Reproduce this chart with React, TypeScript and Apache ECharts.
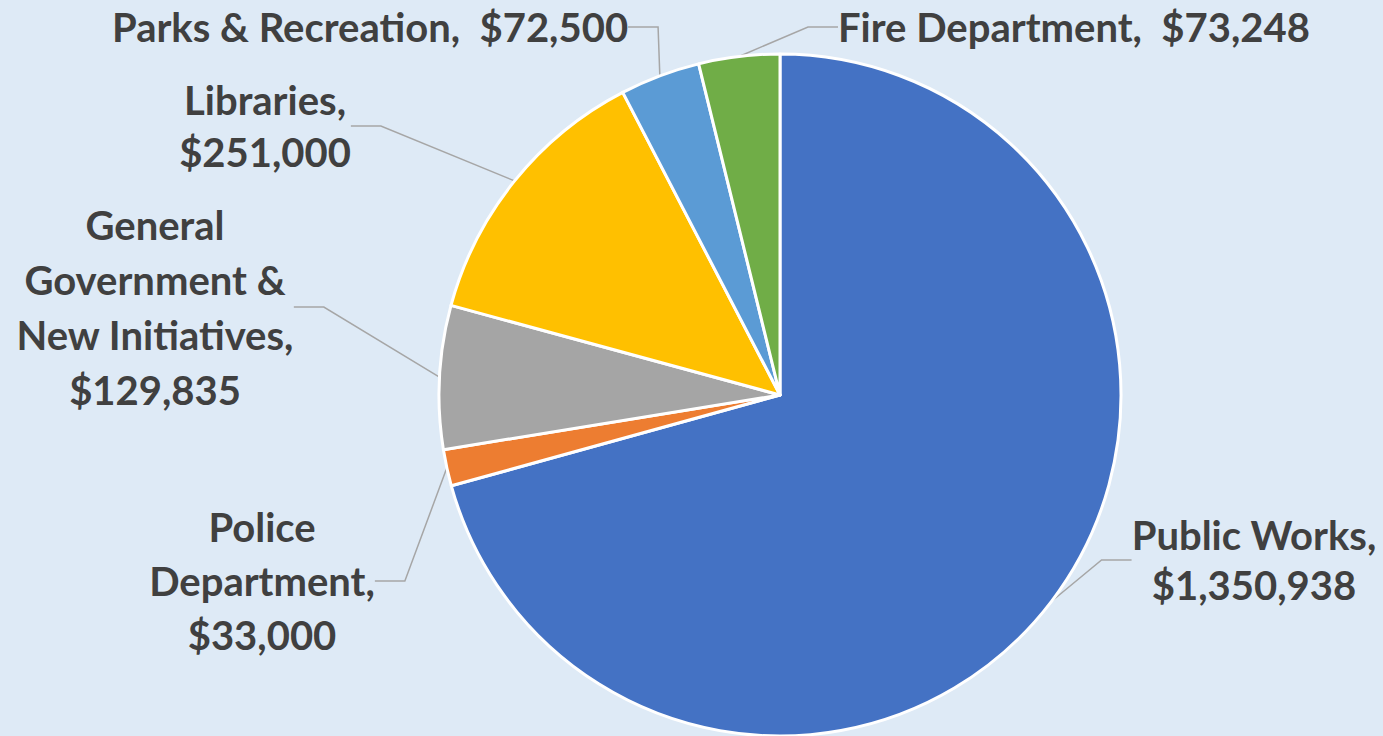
import React, { useEffect, useRef } from "react";
import * as echarts from "echarts";

const categories = [
  "Public Works",
  "Police Department",
  "General Government & New Initiatives",
  "Libraries",
  "Parks & Recreation",
  "Fire Department",
];
const values = [1350938, 33000, 129835, 251000, 72500, 73248];
const labelNames = [
  "Public Works,\n",
  "Police\nDepartment,\n",
  "General\nGovernment &\nNew Initiatives,\n",
  "Libraries,\n",
  "Parks & Recreation,  ",
  "Fire Department,  ",
];
const colors = ["#4472C4", "#ED7D31", "#A5A5A5", "#FFC000", "#5B9BD5", "#70AD47"];

// label anchor placements (layout only)
const labelPos = [
  { x: 1254, y: 560, align: "center", lh: 50 },
  { x: 262, y: 581, align: "center", lh: 54 },
  { x: 155, y: 307, align: "center", lh: 55 },
  { x: 265, y: 126, align: "center", lh: 52 },
  { x: 112, y: 27, align: "left", lh: 54 },
  { x: 838, y: 27, align: "left", lh: 54 },
];

export default function App() {
  const ref = useRef<HTMLDivElement>(null);
  useEffect(() => {
    if (!ref.current) return;
    document.body.style.margin = "0";
    const chart = echarts.init(ref.current, undefined, { renderer: "svg" });
    chart.setOption({
      animation: false,
      backgroundColor: "#DEEAF6",
      series: [
        {
          type: "pie",
          center: [780, 395],
          radius: 341,
          startAngle: 90,
          clockwise: true,
          avoidLabelOverlap: false,
          itemStyle: { borderColor: "#FFFFFF", borderWidth: 3 },
          label: {
            show: true,
            position: "outside",
            color: "#404040",
            fontFamily: "Lato",
            fontWeight: "bold",
            fontSize: 40,
            lineHeight: 54,
            align: "center",
          },
          labelLine: {
            show: true,
            lineStyle: { color: "#A6A6A6", width: 1.5 },
          },
          labelLayout: (params: any) => {
            const p = labelPos[params.dataIndex];
            return {
              x: p.x,
              y: p.y,
              align: p.align,
              verticalAlign: "middle",
              hideOverlap: false,
            };
          },
          data: categories.map((c, i) => ({
            name: c,
            value: values[i],
            itemStyle: { color: colors[i] },
            label: {
              formatter: labelNames[i] + "$" + values[i].toLocaleString("en-US"),
              align: labelPos[i].align,
              lineHeight: labelPos[i].lh,
            },
          })),
        },
      ],
    });
    return () => chart.dispose();
  }, []);
  return (
    <div
      ref={ref}
      style={{ position: "absolute", left: 0, top: 0, width: 1383, height: 736 }}
    />
  );
}
